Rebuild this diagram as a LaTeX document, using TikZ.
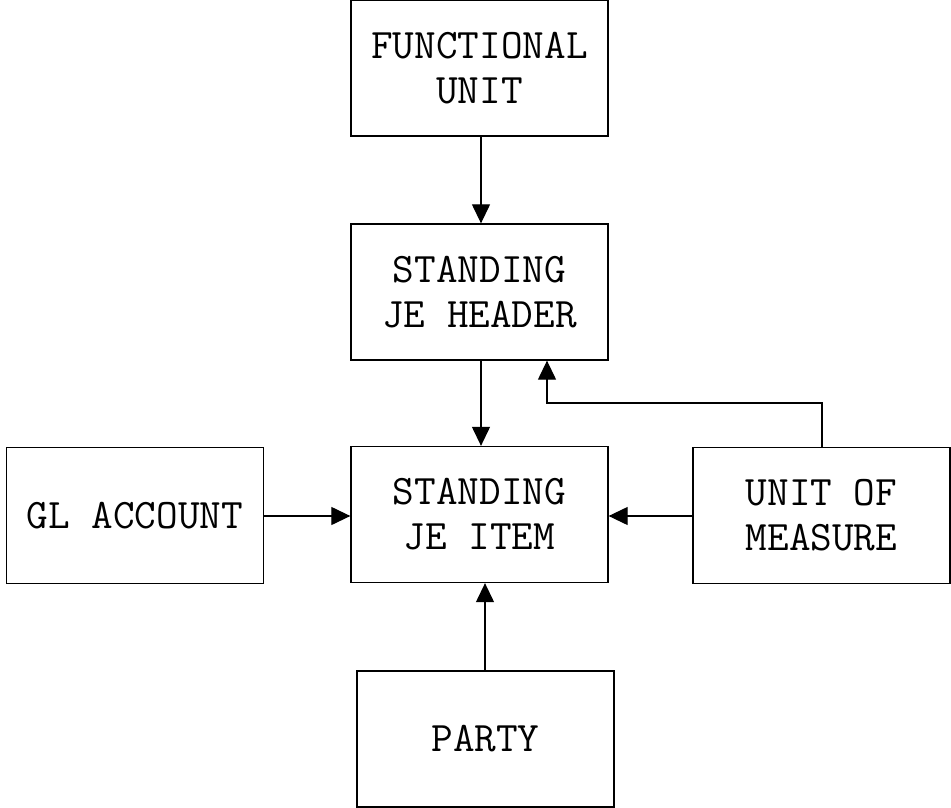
\documentclass[tikz,border=0pt]{standalone}
\usepackage{fontspec}
\usetikzlibrary{arrows.meta}
\begin{document}
\begin{tikzpicture}[x=1pt,y=-1pt,
  ent/.style={draw,line width=1.3pt,minimum width=257pt,minimum height=136pt,inner sep=0pt,
    font=\ttfamily\fontsize{42}{45}\selectfont,align=center},
  conn/.style={line width=1.2pt,-{Triangle[length=19pt,width=18pt]}}]
\useasboundingbox (0,0) rectangle (951,808);
\node[ent] (fu) at (479.5,68) {FUNCTIONAL\\UNIT};
\node[ent] (hd) at (479.5,292) {STANDING\\JE HEADER};
\node[ent] (it) at (479.5,514.5) {STANDING\\JE ITEM};
\node[ent] (gl) at (135,515.5) {GL ACCOUNT};
\node[ent] (um) at (821.5,515.5) {UNIT OF\\MEASURE};
\node[ent] (pa) at (485.5,739) {PARTY};
\coordinate (c1) at (822,403);
\coordinate (c2) at (547,403);
\draw[conn] (fu.south -| 481,0) -- (hd.north -| 481,0);
\draw[conn] (hd.south -| 481,0) -- (it.north -| 481,0);
\draw[conn] (gl.east |- 0,516) -- (it.west |- 0,516);
\draw[conn] (um.west |- 0,516) -- (it.east |- 0,516);
\draw[conn] (pa.north -| 485,0) -- (it.south -| 485,0);
\draw[conn] (um.north -| c1) -- (c1) -- (c2) -- (hd.south -| c2);
\end{tikzpicture}
\end{document}
